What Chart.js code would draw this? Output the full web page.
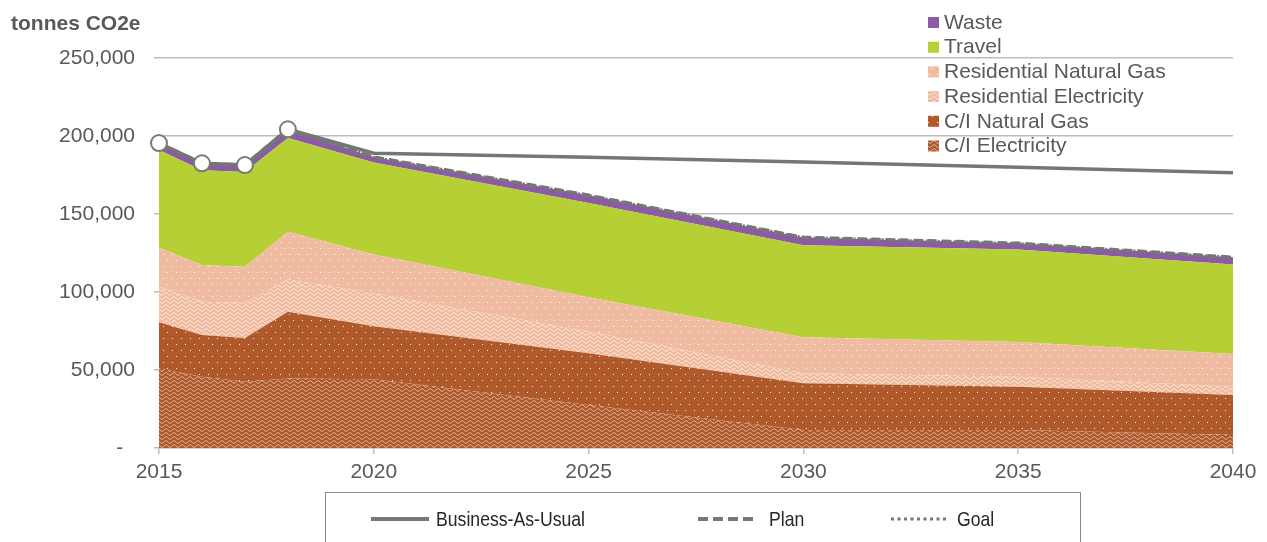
<!DOCTYPE html>
<html>
<head>
<meta charset="utf-8">
<script src="https://cdn.jsdelivr.net/npm/chart.js@4.4.1/dist/chart.umd.min.js"></script>
<style>
  html, body { margin: 0; padding: 0; background: #ffffff; }
  #wrap { width: 1267px; height: 542px; position: relative; }
</style>
</head>
<body>
<div id="wrap"><canvas id="c" width="1267" height="542"></canvas></div>
<script>
// ---- Data (tonnes CO2e) ----
const years = [2015, 2016, 2017, 2018, 2020, 2025, 2030, 2035, 2040];
const ciElectricity   = [51000, 45700, 42500, 44600, 44000, 27600, 11500, 11500, 8300];
const ciNaturalGas    = [29600, 26700, 28000, 42800, 34000, 33100, 30000, 27800, 25700];
const resElectricity  = [22800, 21400, 22400, 20600, 21000, 13900, 6400, 6400, 5300];
const resNaturalGas   = [25000, 23500, 23300, 30700, 25000, 22000, 23100, 22300, 21000];
const travel          = [62600, 60700, 60800, 60000, 59000, 60400, 59000, 59300, 57400];
const waste           = [4500, 4500, 4400, 5600, 3500, 5000, 5000, 3900, 4500];
const businessAsUsual = [195500, 182500, 181400, 204300, 189000, 186300, 183300, 180000, 176500];
const plan            = [195500, 182500, 181400, 204300, 186500, 162000, 135000, 131200, 122200];
const goal            = [195500, 182500, 181400, 204300, 186500, 162000, 135000, 131200, 122200];
const yTicks = [0, 50000, 100000, 150000, 200000, 250000];
const xTicks = [2015, 2020, 2025, 2030, 2035, 2040];

const areaNames = ['C/I Electricity', 'C/I Natural Gas', 'Residential Electricity', 'Residential Natural Gas', 'Travel', 'Waste'];
const lineNames = ['Business-As-Usual', 'Plan', 'Goal'];

// ---- Patterns ----
function dotPattern(bg) {
  const c = document.createElement('canvas'); c.width = 9; c.height = 12;
  const x = c.getContext('2d');
  x.fillStyle = bg; x.fillRect(0, 0, 9, 12);
  x.fillStyle = 'rgba(255,255,255,0.9)';
  x.fillRect(1, 2, 1, 1); x.fillRect(5, 8, 1, 1);
  return x.createPattern(c, 'repeat');
}
function wavePattern(bg, alpha) {
  const c = document.createElement('canvas'); c.width = 8; c.height = 4;
  const x = c.getContext('2d');
  x.fillStyle = bg; x.fillRect(0, 0, 8, 4);
  x.strokeStyle = 'rgba(255,255,255,' + alpha + ')';
  x.lineWidth = 1;
  x.beginPath();
  for (let i = -1; i <= 9; i += 0.5) {
    const y = 2 + 1.3 * Math.sin(i / 8 * Math.PI * 2);
    if (i === -1) x.moveTo(i, y); else x.lineTo(i, y);
  }
  x.stroke();
  return x.createPattern(c, 'repeat');
}

const colCIElec = wavePattern('#b05a2c', 0.6);
const colCING   = dotPattern('#b05a2c');
const colResEl  = wavePattern('#f0bb9f', 0.75);
const colResNG  = dotPattern('#efbca2');
const colTravel = '#b5cf35';
const colWaste  = '#8b5ca5';
const areaColors = [colCIElec, colCING, colResEl, colResNG, colTravel, colWaste];
const areaSeries = [ciElectricity, ciNaturalGas, resElectricity, resNaturalGas, travel, waste];

const lineGray = '#767676';
const toXY = arr => arr.map((v, i) => ({ x: years[i], y: v }));

const datasets = [
  {
    label: lineNames[0], type: 'line', data: toXY(businessAsUsual), stack: 'bau', clip: false,
    borderColor: lineGray, borderWidth: 3.5, fill: false, tension: 0,
    pointRadius: [8, 8, 8, 8, 0, 0, 0, 0, 0],
    pointBackgroundColor: '#ffffff', pointBorderColor: '#7a7a7a', pointBorderWidth: 2
  },
  {
    label: lineNames[1], type: 'line', data: toXY(plan), stack: 'plan',
    borderColor: lineGray, borderWidth: 3.5, borderDash: [9, 5], fill: false, tension: 0, pointRadius: 0
  },
  {
    label: lineNames[2], type: 'line', data: toXY(goal), stack: 'goal',
    borderColor: lineGray, borderWidth: 2.5, borderDash: [2, 2], fill: false, tension: 0, pointRadius: 0
  }
];
areaSeries.forEach((s, i) => {
  datasets.push({
    label: areaNames[i], type: 'line', data: toXY(s), stack: 'emissions',
    backgroundColor: areaColors[i], borderWidth: 0, borderColor: 'rgba(0,0,0,0)',
    fill: i === 0 ? 'origin' : '-1', tension: 0, pointRadius: 0
  });
});

const textGray = '#595959';

function narrowText(ctx, text, x, y, sx) {
  ctx.save();
  ctx.translate(x, y);
  ctx.scale(sx, 1);
  ctx.fillText(text, 0, 0);
  ctx.restore();
}

const overlay = {
  id: 'overlay',
  afterDraw(chart) {
    const ctx = chart.ctx;
    ctx.save();
    // Y axis title
    ctx.fillStyle = textGray;
    ctx.font = 'bold 21px "Liberation Sans", Arial, sans-serif';
    ctx.textAlign = 'left'; ctx.textBaseline = 'middle';
    ctx.fillText('tonnes CO2e', 11, 24);

    // Top-right legend (reverse stacking order)
    ctx.font = '21px "Liberation Sans", Arial, sans-serif';
    const rows = [5, 4, 3, 2, 1, 0];
    rows.forEach((idx, r) => {
      const cy = 22 + r * 24.7;
      ctx.fillStyle = areaColors[idx];
      ctx.fillRect(928, cy - 5, 11, 11);
      ctx.fillStyle = textGray;
      ctx.fillText(areaNames[idx], 944, cy + 1);
    });

    // Bottom legend box
    ctx.strokeStyle = '#8a8a8a'; ctx.lineWidth = 1;
    ctx.strokeRect(325.5, 492.5, 755, 100);
    const ly = 519;
    ctx.strokeStyle = '#777777'; ctx.lineWidth = 4;
    ctx.setLineDash([]);
    ctx.beginPath(); ctx.moveTo(371, ly); ctx.lineTo(429, ly); ctx.stroke();
    ctx.setLineDash([10, 5]);
    ctx.beginPath(); ctx.moveTo(698, ly); ctx.lineTo(755, ly); ctx.stroke();
    ctx.lineWidth = 3; ctx.setLineDash([3, 3.5]);
    ctx.beginPath(); ctx.moveTo(891, ly); ctx.lineTo(949, ly); ctx.stroke();
    ctx.setLineDash([]);
    ctx.fillStyle = '#262626';
    ctx.font = '21px "Liberation Sans", Arial, sans-serif';
    ctx.textBaseline = 'middle';
    narrowText(ctx, lineNames[0], 436, ly + 1, 0.84);
    narrowText(ctx, lineNames[1], 769, ly + 1, 0.84);
    narrowText(ctx, lineNames[2], 957, ly + 1, 0.84);
    ctx.restore();
  }
};

new Chart(document.getElementById('c'), {
  type: 'line',
  data: { datasets },
  options: {
    responsive: false, animation: false, devicePixelRatio: 1,
    layout: { padding: { top: 58, right: 34, left: 0, bottom: 0 } },
    plugins: { legend: { display: false }, tooltip: { enabled: false }, title: { display: false } },
    elements: { line: { tension: 0 } },
    scales: {
      x: {
        type: 'linear', min: 2015, max: 2040,
        afterFit: s => { s.height = 94; },
        afterBuildTicks: s => { s.ticks = xTicks.map(v => ({ value: v })); },
        ticks: { callback: v => String(v), color: textGray, padding: 6,
                 font: { family: '"Liberation Sans", Arial, sans-serif', size: 21 }, maxRotation: 0 },
        grid: { drawOnChartArea: false, drawTicks: true, tickLength: 6, color: '#bfbfbf', lineWidth: 1.5 },
        border: { display: true, color: '#bfbfbf', width: 1.5 }
      },
      y: {
        stacked: true, min: 0, max: 250000,
        afterFit: s => { s.width = 159; },
        afterBuildTicks: s => { s.ticks = yTicks.map(v => ({ value: v })); },
        ticks: { callback: v => v === 0 ? '-  ' : v.toLocaleString('en-US'), color: textGray, padding: 19,
                 font: { family: '"Liberation Sans", Arial, sans-serif', size: 21 } },
        grid: { color: '#bcbcbc', lineWidth: 1.5, tickLength: 5, drawTicks: true },
        border: { display: false }
      }
    }
  },
  plugins: [overlay]
});
</script>
</body>
</html>
